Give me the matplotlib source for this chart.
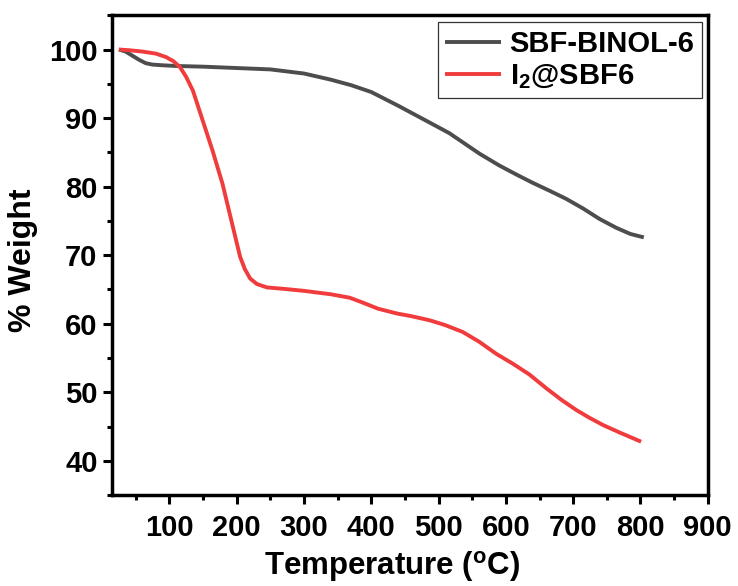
import numpy as np
import matplotlib
matplotlib.use("Agg")
import matplotlib.pyplot as plt
from matplotlib.ticker import MultipleLocator

'''
Data (read off the TGA plot)
'''
temp_sbf = [25, 35, 45, 55, 65, 75, 90, 110, 150, 200, 250, 300, 340, 370, 400,
            440, 480, 516, 540, 561, 590, 615, 639, 665, 690, 715, 739, 764, 785, 805]
wt_sbf = [100, 99.7, 99.1, 98.5, 98.0, 97.8, 97.7, 97.6, 97.5, 97.3, 97.1, 96.5, 95.6, 94.8, 93.8,
          91.8, 89.7, 87.8, 86.2, 84.8, 83.1, 81.8, 80.6, 79.4, 78.2, 76.8, 75.3, 74.0, 73.1, 72.6]

temp_i2 = [25, 40, 60, 80, 95, 106, 116, 125, 135, 150, 164, 179, 191, 205, 212, 220, 230, 245,
           269, 300, 340, 368, 387, 410, 438, 460, 487, 510, 536, 560, 586, 610, 635, 660, 684,
           705, 724, 745, 770, 801]
wt_i2 = [100, 99.9, 99.7, 99.4, 98.9, 98.3, 97.4, 96.0, 94.0, 89.5, 85.3, 80.4, 75.5, 69.8, 68.0, 66.6, 65.8, 65.3,
         65.1, 64.8, 64.3, 63.8, 63.1, 62.2, 61.5, 61.1, 60.5, 59.8, 58.8, 57.4, 55.6, 54.2, 52.6, 50.6, 48.8,
         47.4, 46.3, 45.2, 44.1, 42.8]

labels = ['SBF-BINOL-6', r'I$_2$@SBF6']
colors = ['#4d4d4d', '#f03c3c']

x_ticks = [100, 200, 300, 400, 500, 600, 700, 800, 900]
y_ticks = [40, 50, 60, 70, 80, 90, 100]

'''
Style
'''
plt.rcParams['font.family'] = ['Liberation Sans', 'DejaVu Sans']
plt.rcParams['font.weight'] = 'bold'
plt.rcParams['mathtext.fontset'] = 'custom'
plt.rcParams['mathtext.rm'] = 'Liberation Sans:bold'
plt.rcParams['mathtext.it'] = 'Liberation Sans:bold'
plt.rcParams['mathtext.bf'] = 'Liberation Sans:bold'

fig = plt.figure(figsize=(7.38, 5.86), dpi=100)
ax = fig.add_axes([0.152, 0.155, 0.807, 0.819])

ax.plot(temp_sbf, wt_sbf, color=colors[0], lw=2.8, label=labels[0], solid_capstyle='butt')
ax.plot(temp_i2, wt_i2, color=colors[1], lw=2.8, label=labels[1], solid_capstyle='butt')

ax.set_xlim(15, 900)
ax.set_ylim(35, 105)
ax.set_xticks(x_ticks)
ax.set_yticks(y_ticks)
ax.xaxis.set_minor_locator(MultipleLocator(50))
ax.yaxis.set_minor_locator(MultipleLocator(5))

for s in ax.spines.values():
    s.set_linewidth(2.5)

ax.tick_params(which='major', direction='out', length=6.5, width=2.2, labelsize=21)
ax.tick_params(which='minor', direction='out', length=3.5, width=2.2)
ax.tick_params(axis='x', which='major', pad=7)
ax.tick_params(axis='y', which='major', pad=4)

ax.set_xlabel(r'Temperature ($^{\mathregular{o}}$C)', fontsize=22.5, fontweight='bold')
ax.set_ylabel('% Weight', fontsize=23, fontweight='bold')
ax.xaxis.set_label_coords(0.47, -0.113)
ax.yaxis.set_label_coords(-0.125, 0.49)

leg = ax.legend(loc='upper right', bbox_to_anchor=(0.99, 0.985), borderaxespad=0,
                fontsize=21, frameon=True, fancybox=False, edgecolor='black',
                handlelength=1.9, handletextpad=0.3, labelspacing=0.15, borderpad=0.25)
leg.get_frame().set_linewidth(0.9)

fig.savefig('out.png', dpi=100)
